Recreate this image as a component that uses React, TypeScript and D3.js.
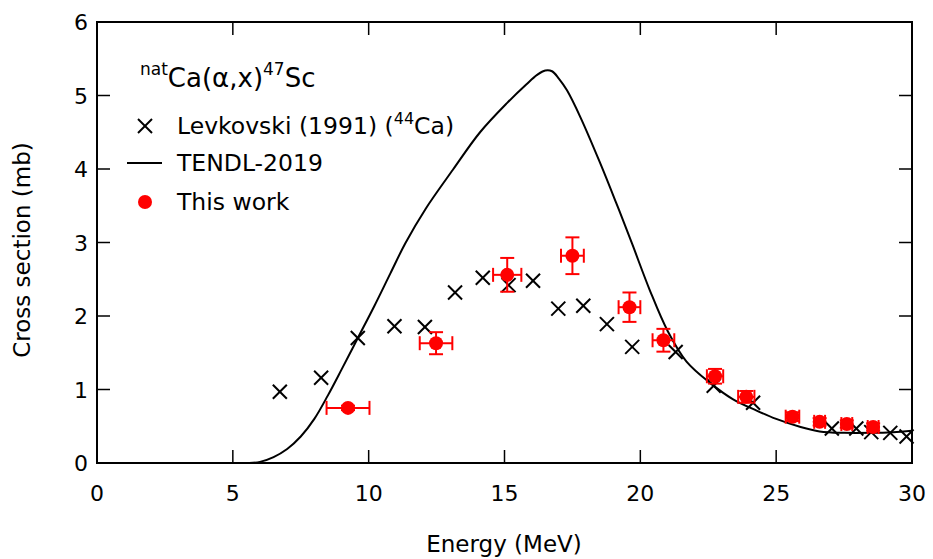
import React from "react";
import * as d3 from "d3";

// TENDL-2019 evaluated excitation function (E in MeV, sigma in mb)
const tendlE = [5.6, 6.0, 6.5, 7.0, 7.5, 8.0, 8.5, 9.0, 9.6, 10.2, 10.8, 11.35, 12.1, 13.1, 14.1, 15.1, 15.8, 16.2, 16.5, 16.75, 17.0, 17.3, 17.8, 18.5, 19.1, 19.7, 20.35, 21.0, 21.7, 22.6, 23.4, 24.3, 25.0, 25.9, 26.6, 27.5, 28.5, 29.3, 30.0];
const tendlS = [0, 0.015, 0.08, 0.19, 0.36, 0.6, 0.92, 1.27, 1.7, 2.13, 2.58, 2.99, 3.46, 3.99, 4.5, 4.9, 5.15, 5.28, 5.34, 5.33, 5.23, 5.07, 4.7, 4.1, 3.55, 2.98, 2.35, 1.8, 1.38, 1.08, 0.87, 0.71, 0.6, 0.49, 0.43, 0.41, 0.41, 0.42, 0.44];

// Levkovski (1991), 44Ca target
const levE = [6.73, 8.25, 9.6, 10.95, 12.07, 13.18, 14.2, 15.15, 16.05, 16.98, 17.9, 18.77, 19.7, 21.3, 22.7, 24.15, 27.05, 27.95, 28.5, 29.2, 29.8];
const levS = [0.97, 1.16, 1.7, 1.86, 1.85, 2.32, 2.52, 2.42, 2.48, 2.1, 2.14, 1.89, 1.58, 1.51, 1.05, 0.82, 0.47, 0.47, 0.42, 0.41, 0.36];

// This work, with energy and cross-section uncertainties
const workE = [9.24, 12.48, 15.1, 17.5, 19.6, 20.85, 22.75, 23.9, 25.6, 26.6, 27.6, 28.57];
const workS = [0.75, 1.63, 2.56, 2.82, 2.12, 1.67, 1.18, 0.9, 0.63, 0.56, 0.53, 0.49];
const workDE = [0.79, 0.6, 0.52, 0.42, 0.4, 0.4, 0.3, 0.3, 0.25, 0.2, 0.2, 0.2];
const workDS = [0.03, 0.15, 0.23, 0.25, 0.2, 0.155, 0.1, 0.08, 0.06, 0.05, 0.05, 0.05];

const xTicks = [0, 5, 10, 15, 20, 25, 30];
const yTicks = [0, 1, 2, 3, 4, 5, 6];

const W = 933;
const H = 559;
const FONT = "'DejaVu Sans', Verdana, sans-serif";

export default function App() {
  const x = d3.scaleLinear().domain([0, 30]).range([97, 912]);
  const y = d3.scaleLinear().domain([0, 6]).range([463, 22]);

  const line = d3
    .line<number>()
    .x((_, i) => x(tendlE[i]))
    .y((d) => y(d))
    .curve(d3.curveCatmullRom.alpha(0.5));

  const red = "#ff0000";
  const tick = 13;
  const cap = 7;
  const xs = 7;

  const cross = (cx: number, cy: number, key: string | number) => (
    <g key={key} stroke="#000" strokeWidth={2}>
      <line x1={cx - xs} y1={cy - xs} x2={cx + xs} y2={cy + xs} />
      <line x1={cx - xs} y1={cy + xs} x2={cx + xs} y2={cy - xs} />
    </g>
  );

  return (
    <svg
      width={W}
      height={H}
      style={{ position: "absolute", left: 0, top: 0, background: "#fff" }}
      fontFamily={FONT}
    >
      {/* TENDL curve */}
      <path d={line(tendlS) || ""} fill="none" stroke="#000" strokeWidth={2} />

      {/* Levkovski crosses */}
      {levE.map((e, i) => cross(x(e), y(levS[i]), `l${i}`))}

      {/* This work: error bars and points */}
      {workE.map((e, i) => {
        const cx = x(e);
        const cy = y(workS[i]);
        const x0 = x(e - workDE[i]);
        const x1 = x(e + workDE[i]);
        const y0 = y(workS[i] - workDS[i]);
        const y1 = y(workS[i] + workDS[i]);
        return (
          <g key={`w${i}`} stroke={red} strokeWidth={2}>
            <line x1={x0} y1={cy} x2={x1} y2={cy} />
            <line x1={x0} y1={cy - cap} x2={x0} y2={cy + cap} />
            <line x1={x1} y1={cy - cap} x2={x1} y2={cy + cap} />
            <line x1={cx} y1={y0} x2={cx} y2={y1} />
            <line x1={cx - cap} y1={y0} x2={cx + cap} y2={y0} />
            <line x1={cx - cap} y1={y1} x2={cx + cap} y2={y1} />
            <circle cx={cx} cy={cy} r={7} fill={red} stroke="none" />
          </g>
        );
      })}

      {/* Frame and ticks */}
      <rect x={97} y={22} width={815} height={441} fill="none" stroke="#000" strokeWidth={2} />
      {xTicks.map((t) => (
        <g key={`xt${t}`} stroke="#000" strokeWidth={1.5}>
          <line x1={x(t)} y1={463} x2={x(t)} y2={463 - tick} />
          <line x1={x(t)} y1={22} x2={x(t)} y2={22 + tick} />
        </g>
      ))}
      {yTicks.map((t) => (
        <g key={`yt${t}`} stroke="#000" strokeWidth={1.5}>
          <line x1={97} y1={y(t)} x2={97 + tick} y2={y(t)} />
          <line x1={912} y1={y(t)} x2={912 - tick} y2={y(t)} />
        </g>
      ))}

      {/* Tick labels */}
      {xTicks.map((t) => (
        <text key={`xl${t}`} x={x(t)} y={501} fontSize={22} textAnchor="middle" fill="#000">
          {t}
        </text>
      ))}
      {yTicks.map((t) => (
        <text key={`yl${t}`} x={88} y={y(t) + 8} fontSize={22} textAnchor="end" fill="#000">
          {t}
        </text>
      ))}

      {/* Axis titles */}
      <text x={504} y={552} fontSize={23} textAnchor="middle" fill="#000">
        Energy (MeV)
      </text>
      <text
        transform={`translate(30,250) rotate(-90)`}
        fontSize={23}
        textAnchor="middle"
        fill="#000"
      >
        Cross section (mb)
      </text>

      {/* Reaction label */}
      <text x={140} y={87} fontSize={26} fill="#000">
        <tspan fontSize={17} dy={-12}>nat</tspan>
        <tspan dy={12}>Ca(α,x)</tspan>
        <tspan fontSize={17} dy={-12}>47</tspan>
        <tspan dy={12}>Sc</tspan>
      </text>

      {/* Legend */}
      {cross(145, 126, "legx")}
      <text x={177} y={134} fontSize={23.5} fill="#000">
        Levkovski (1991) (<tspan fontSize={16} dy={-10}>44</tspan>
        <tspan dy={10}>Ca)</tspan>
      </text>
      <line x1={127} y1={163} x2={162} y2={163} stroke="#000" strokeWidth={2} />
      <text x={177} y={171} fontSize={23.5} fill="#000">
        TENDL-2019
      </text>
      <circle cx={145} cy={202} r={7} fill={red} />
      <text x={177} y={210} fontSize={23.5} fill="#000">
        This work
      </text>
    </svg>
  );
}
